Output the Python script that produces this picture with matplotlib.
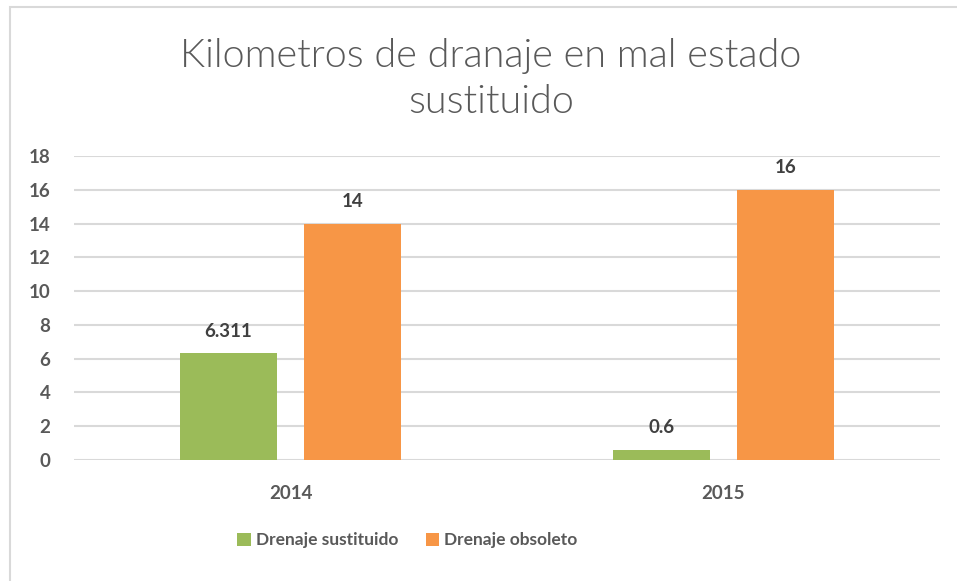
import matplotlib.pyplot as plt
from matplotlib.patches import Rectangle
import numpy as np

years = ["2014", "2015"]
sustituido = [6.311, 0.6]
obsoleto = [14, 16]
labels_sust = ["6.311", "0.6"]
labels_obs = ["14", "16"]
yticks = [0, 2, 4, 6, 8, 10, 12, 14, 16, 18]

green = "#9BBB59"
orange = "#F79646"
gray = "#595959"
dark = "#404040"
font = ["Lato", "DejaVu Sans"]

fig = plt.figure(figsize=(9.57, 5.81), dpi=100)
fig.patches.append(Rectangle((10 / 957, -0.1), 1.2, (581 - 7) / 581 + 0.1,
                             transform=fig.transFigure, fill=False,
                             edgecolor="#D9D9D9", linewidth=1.5))

ax = fig.add_axes([74 / 957, 121 / 581, 866 / 957, 304 / 581])
x = np.arange(len(years))
w = 0.224
off = 0.143
b1 = ax.bar(x - off, sustituido, w, color=green, label="Drenaje sustituido", zorder=3)
b2 = ax.bar(x + off, obsoleto, w, color=orange, label="Drenaje obsoleto", zorder=3)

for bars, labs in ((b1, labels_sust), (b2, labels_obs)):
    for r, t in zip(bars, labs):
        ax.annotate(t, (r.get_x() + r.get_width() / 2, r.get_height()),
                    xytext=(0, 10), textcoords="offset points", ha="center",
                    va="bottom", fontsize=13.5, fontweight="bold", color=dark,
                    family=font)

ax.set_xlim(-0.5, 1.5)
ax.set_ylim(0, 18)
ax.set_yticks(yticks)
ax.set_xticks(x)
ax.set_xticklabels(years)
ax.yaxis.grid(True, color="#D9D9D9", linewidth=1.5, zorder=0)
for s in ax.spines.values():
    s.set_visible(False)
ax.tick_params(length=0, labelsize=13.5, labelcolor=gray)
ax.tick_params(axis="y", pad=17)
ax.tick_params(axis="x", pad=18)
for lab in ax.get_xticklabels() + ax.get_yticklabels():
    lab.set_fontweight("bold")
    lab.set_family(font)

ax.set_title("Kilometros de dranaje en mal estado\nsustituido", fontsize=28.5,
             color=gray, family=font, fontweight=300, pad=31,
             linespacing=1.35, x=(491 - 74) / 866)

leg = ax.legend(loc="upper center", bbox_to_anchor=(0.385, -0.187), ncol=2,
                frameon=False, handlelength=0.75, handleheight=0.75,
                handletextpad=0.3, columnspacing=1.6,
                prop={"family": font, "weight": "bold", "size": 12.5})
for t in leg.get_texts():
    t.set_color(gray)

fig.savefig("out.png", dpi=100)
